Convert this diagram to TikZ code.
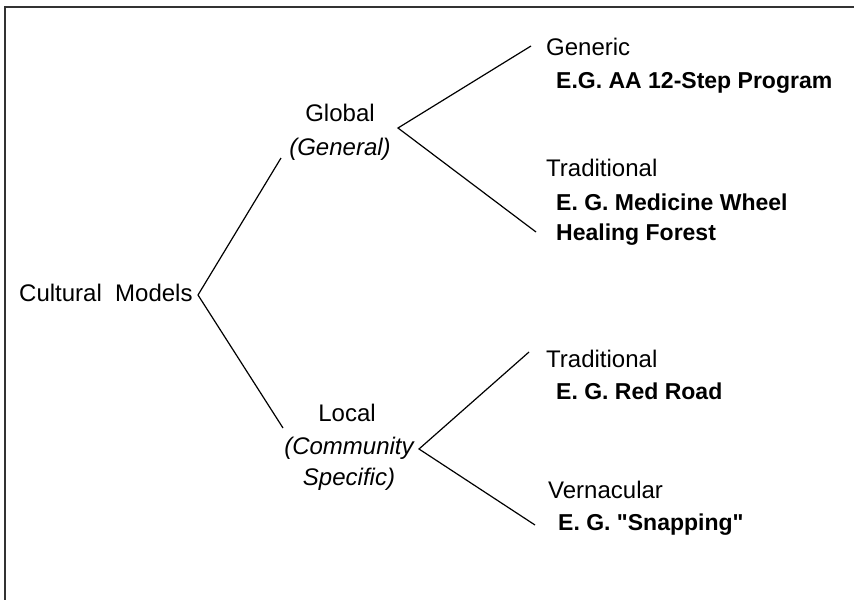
\documentclass[tikz,border=0pt]{standalone}
\usepackage{fontspec}
\setmainfont{Liberation Sans}
\newfontfamily\plainq{Liberation Sans}[Ligatures=ResetAll]
\begin{document}
\begin{tikzpicture}[x=1pt,y=-1pt,
  lbl/.style={inner sep=0pt,font=\fontsize{24}{28}\selectfont},
  ex/.style={inner sep=0pt,font=\fontsize{23}{28}\selectfont\bfseries},
  conn/.style={draw=black,line width=1.2pt},
  frame/.style={draw=black!80,line width=2pt}]
\useasboundingbox (0,0) rectangle (854,600);
% frame
\coordinate (ftr) at (854,6.5);
\coordinate (ftl) at (5,6.5);
\coordinate (fbl) at (5,600);
\draw[frame] (ftr) -- (ftl) -- (fbl);
% text nodes
\node[lbl,anchor=base west] (cm) at (19,301) {Cultural\ \ Models};
\node[lbl,anchor=base] (glob) at (340,121) {Global};
\node[lbl,anchor=base] (globsub) at (340,155) {\itshape (General)};
\node[lbl,anchor=base west] (gen) at (546,55) {Generic};
\node[ex,anchor=base west] (genex) at (556,88) {E.G. AA 12-Step Program};
\node[lbl,anchor=base west] (trad1) at (546,176) {Traditional};
\node[ex,anchor=base west] (trad1ex) at (556,210) {E. G. Medicine Wheel};
\node[ex,anchor=base west] (trad1exb) at (556,240) {Healing Forest};
\node[lbl,anchor=base] (loc) at (347,421) {Local};
\node[lbl,anchor=base] (locsub) at (349,454) {\itshape (Community};
\node[lbl,anchor=base] (locsubb) at (349,485) {\itshape Specific)};
\node[lbl,anchor=base west] (trad2) at (546,367) {Traditional};
\node[ex,anchor=base west] (trad2ex) at (556,399) {E. G. Red Road};
\node[lbl,anchor=base west] (vern) at (548,498) {Vernacular};
\node[ex,anchor=base west] (vernex) at (558,530) {\plainq\bfseries E. G. "Snapping"};
% connector points
\coordinate (cmv) at (198,295);
\coordinate (globin) at (281,158);
\coordinate (locin) at (283,428);
\coordinate (globv) at (398,128);
\coordinate (genin) at (531,46);
\coordinate (trad1in) at (536,232);
\coordinate (locv) at (419,449);
\coordinate (trad2in) at (529,352);
\coordinate (vernin) at (535,525);
% connectors
\draw[conn] (globin) -- (cmv) -- (locin);
\draw[conn] (genin) -- (globv) -- (trad1in);
\draw[conn] (trad2in) -- (locv) -- (vernin);
\end{tikzpicture}
\end{document}
